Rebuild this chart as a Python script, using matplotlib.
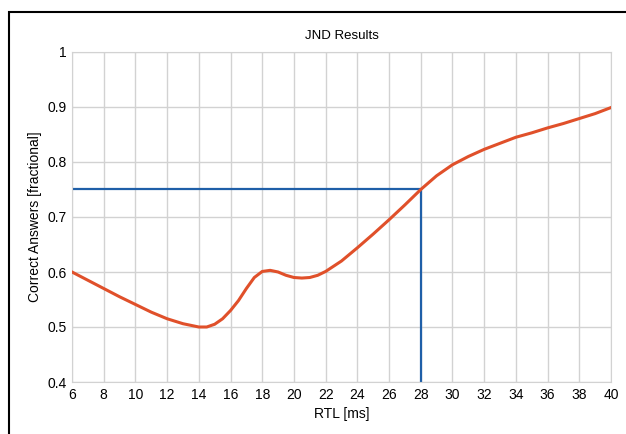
import matplotlib.pyplot as plt
from matplotlib.patches import Rectangle

plt.rcParams['font.family'] = ['Liberation Sans', 'DejaVu Sans']

# Curve
rtl = [6, 7, 8, 9, 10, 11, 12, 13, 14, 14.5, 15, 15.5, 16, 16.5, 17, 17.5, 18, 18.5, 19, 19.5,
       20, 20.5, 21, 21.5, 22, 23, 24, 25, 26, 27, 28, 29, 30, 31, 32, 33, 34, 35, 36, 37, 38, 39, 40]
correct = [0.600, 0.585, 0.570, 0.555, 0.541, 0.527, 0.515, 0.506, 0.500, 0.500, 0.505, 0.515,
           0.530, 0.548, 0.570, 0.590, 0.601, 0.603, 0.600, 0.594, 0.590, 0.589, 0.590, 0.594,
           0.601, 0.620, 0.644, 0.669, 0.695, 0.722, 0.750, 0.775, 0.795, 0.810, 0.823, 0.834,
           0.845, 0.853, 0.862, 0.870, 0.879, 0.888, 0.899]

# threshold marker
jnd_x = 28
jnd_y = 0.75

xticks = list(range(6, 41, 2))
yticks = [0.4, 0.5, 0.6, 0.7, 0.8, 0.9, 1.0]
yticklabels = ["0.4", "0.5", "0.6", "0.7", "0.8", "0.9", "1"]

fig = plt.figure(figsize=(6.26, 4.34), dpi=100)
ax = fig.add_axes([72 / 626, 1 - 382 / 434, (611 - 72) / 626, (382 - 52) / 434])

# cropped frame around the figure
fig.patches.append(Rectangle((9 / 626, -0.1), 1.2, 1 - 12 / 434 + 0.1, transform=fig.transFigure,
                             fill=False, edgecolor='black', linewidth=1.5))

ax.plot(rtl, correct, color='#e0502a', linewidth=2.2, zorder=3)
ax.plot([6, jnd_x, jnd_x], [jnd_y, jnd_y, 0.4], color='#1f5fa8', linewidth=1.6, zorder=2)

ax.set_xlim(6, 40)
ax.set_ylim(0.4, 1.0)
ax.set_xticks(xticks)
ax.set_yticks(yticks)
ax.set_yticklabels(yticklabels)
ax.grid(True, color='#d2d2d2', linewidth=1.0)
ax.set_axisbelow(True)
for s in ax.spines.values():
    s.set_color('#d2d2d2')
ax.tick_params(length=0, labelsize=10, pad=4)

ax.set_title("JND Results", fontsize=9.5, pad=9)
ax.set_xlabel("RTL [ms]", fontsize=10, labelpad=4)
ax.set_ylabel("Correct Answers [fractional]", fontsize=10, labelpad=4)

fig.savefig("out.png", dpi=100)
